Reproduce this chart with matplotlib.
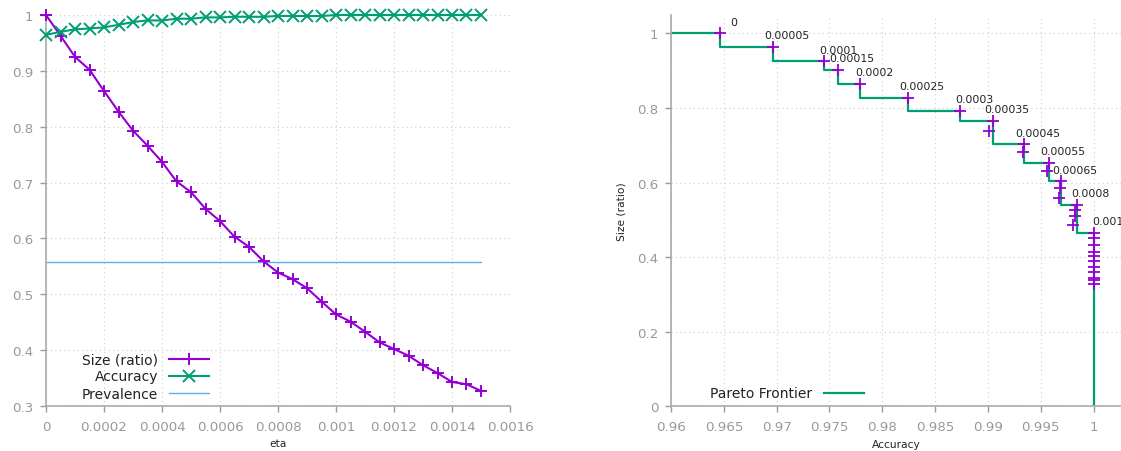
## eta sweep: size/accuracy trade-off ##

import numpy as np
import matplotlib
matplotlib.use('Agg')
import matplotlib.pyplot as plt
from matplotlib.ticker import FuncFormatter, MultipleLocator

eta = [0, 0.00005, 0.0001, 0.00015, 0.0002, 0.00025, 0.0003, 0.00035, 0.0004, 0.00045,
       0.0005, 0.00055, 0.0006, 0.00065, 0.0007, 0.00075, 0.0008, 0.00085, 0.0009, 0.00095,
       0.001, 0.00105, 0.0011, 0.00115, 0.0012, 0.00125, 0.0013, 0.00135, 0.0014, 0.00145,
       0.0015]
size_ratio = [1.0, 0.963, 0.925, 0.902, 0.864, 0.827, 0.793, 0.766, 0.737, 0.702,
              0.683, 0.653, 0.631, 0.603, 0.585, 0.559, 0.539, 0.527, 0.511, 0.487,
              0.464, 0.451, 0.433, 0.414, 0.402, 0.390, 0.373, 0.359, 0.343, 0.339,
              0.327]
accuracy = [0.9646, 0.9697, 0.9745, 0.9758, 0.9779, 0.9824, 0.9874, 0.9905, 0.9901, 0.9934,
            0.9933, 0.9958, 0.9956, 0.9969, 0.9968, 0.9967, 0.9984, 0.9982, 0.9982, 0.9981,
            1.0, 1.0, 1.0, 1.0, 1.0, 1.0, 1.0, 1.0, 1.0, 1.0,
            1.0]
prevalence = 0.5576

PURPLE = '#9400D3'
GREEN = '#009E73'
BLUE = '#56B4E9'
TICK = '#999999'

plt.rcParams['font.family'] = 'DejaVu Sans'
fmt = FuncFormatter(lambda v, p: '%g' % round(v, 6))


def style(ax):
    for s in ('top', 'right'):
        ax.spines[s].set_visible(False)
    for s in ('left', 'bottom'):
        ax.spines[s].set_color('#aaaaaa')
        ax.spines[s].set_linewidth(1.2)
    ax.tick_params(colors=TICK, labelsize=9.6, length=4, width=1, pad=5)
    ax.tick_params(axis='x', pad=6)
    ax.grid(True, linestyle=(0, (1, 3)), color='#cccccc', linewidth=0.8)
    ax.set_axisbelow(True)
    ax.xaxis.set_major_formatter(fmt)
    ax.yaxis.set_major_formatter(fmt)


fig = plt.figure(figsize=(11.21, 4.52), dpi=100)

## left: size and accuracy vs eta ##
ax1 = fig.add_axes([46 / 1121, 45 / 452, 464 / 1121, 391 / 452])
style(ax1)
ax1.plot(eta, size_ratio, color=PURPLE, lw=1.5, marker='+', ms=9, mew=1.4,
         label='Size (ratio)', clip_on=False, zorder=3)
ax1.plot(eta, accuracy, color=GREEN, lw=1.5, marker='x', ms=8, mew=1.4,
         label='Accuracy', clip_on=False, zorder=3)
ax1.plot([eta[0], eta[-1]], [prevalence, prevalence], color=BLUE, lw=1,
         label='Prevalence')
ax1.set_xlim(0, 0.0016)
ax1.set_ylim(0.3, 1.0)
ax1.xaxis.set_major_locator(MultipleLocator(0.0002))
ax1.yaxis.set_major_locator(MultipleLocator(0.1))
ax1.set_xlabel('eta', fontsize=7.7, color='#222222', labelpad=4)
ax1.legend(loc='lower left', bbox_to_anchor=(0.05, -0.018), frameon=False,
           markerfirst=False, fontsize=10, handlelength=2.9, handletextpad=0.8,
           labelspacing=0.22, labelcolor='#222222')

## right: accuracy vs size with the pareto frontier ##
ax2 = fig.add_axes([671 / 1121, 44.7 / 452, 450 / 1121, 391.6 / 452])
style(ax2)
xmin, xmax = 0.96, 1.0026
ax2.set_xlim(xmin, xmax)
ax2.set_ylim(0, 1.05)
ax2.xaxis.set_major_locator(MultipleLocator(0.005))
ax2.yaxis.set_major_locator(MultipleLocator(0.2))

acc = np.array(accuracy)
siz = np.array(size_ratio)
# a run is on the frontier if no other run beats it on both accuracy and size
pareto = []
for i in range(len(acc)):
    dominated = np.any((acc >= acc[i]) & (siz >= siz[i]) & ((acc > acc[i]) | (siz > siz[i])))
    if not dominated:
        pareto.append(i)

fx = [xmin] + [acc[i] for i in pareto] + [acc[pareto[-1]]]
fy = [siz[pareto[0]]] + [siz[i] for i in pareto] + [0]
ax2.step(fx, fy, where='pre', color=GREEN, lw=1.6, label='Pareto Frontier', zorder=2)
ax2.plot(acc, siz, ls='none', marker='+', ms=9, mew=1.3, color=PURPLE, zorder=3)

for i in pareto:
    lab = ('%.5f' % eta[i]).rstrip('0').rstrip('.')
    ax2.annotate(lab, (acc[i], siz[i]), xytext=(10, 8.5), textcoords='offset points',
                 ha='center', va='center', fontsize=7.8, color='#222222')

ax2.set_xlabel('Accuracy', fontsize=7.7, color='#222222', labelpad=4)
ax2.set_ylabel('Size (ratio)', fontsize=7.7, color='#222222', labelpad=8)
ax2.legend(loc='lower left', bbox_to_anchor=(0.06, -0.017), frameon=False,
           markerfirst=False, fontsize=10, handlelength=2.9, handletextpad=0.8,
           labelcolor='#222222')

plt.savefig('out.png', dpi=100)
